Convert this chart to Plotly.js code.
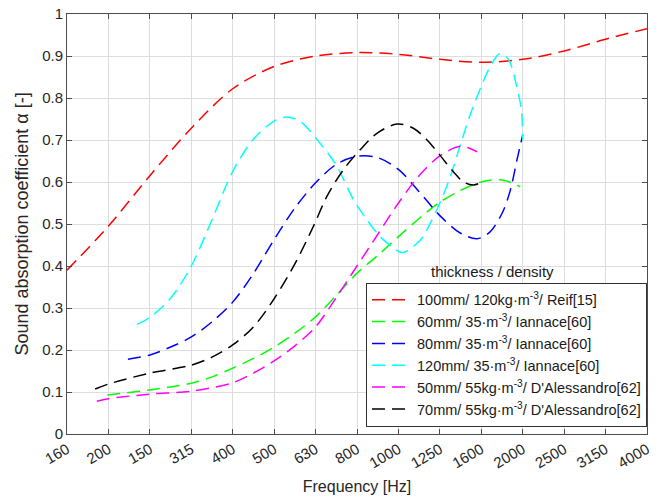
<!DOCTYPE html>
<html>
<head>
<meta charset="utf-8">
<script src="https://cdn.plot.ly/plotly-3.0.1.min.js"></script>
<style>html,body{margin:0;padding:0;background:#fff;}#chart{width:664px;height:498px;}</style>
</head>
<body>
<div id="chart"></div>
<script>
// Frequency band tick labels (as printed on the original, equally spaced bands)
var freqLabels = ['160','200','150','315','400','500','630','800','1000','1250','1600','2000','2500','3150','4000'];
var bandIndex = [0,1,2,3,4,5,6,7,8,9,10,11,12,13,14];

// Series (x = band position, y = absorption coefficient)
var reifX = [0,1,2,3,4,5,6,7,8,9,10,11,12,13,14];
var reifY = [0.39,0.495,0.615,0.728,0.822,0.875,0.9,0.908,0.904,0.892,0.885,0.892,0.912,0.94,0.965];

var ian60X = [0.97,1.5,2,2.5,3,3.5,4,4.5,5,5.5,6,6.5,7,7.5,8,8.5,9,9.5,10,10.5,10.94];
var ian60Y = [0.093,0.099,0.105,0.112,0.121,0.136,0.157,0.18,0.207,0.24,0.279,0.33,0.383,0.425,0.47,0.513,0.552,0.58,0.6,0.605,0.589];

var ian80X = [1.47,2,2.5,3,3.5,4,4.5,5,5.5,6,6.5,7,7.5,8,8.5,9,9.5,9.9,10.2,10.5,10.7,10.86,11];
var ian80Y = [0.178,0.188,0.207,0.231,0.267,0.314,0.382,0.463,0.538,0.598,0.642,0.661,0.658,0.63,0.577,0.52,0.478,0.465,0.48,0.525,0.58,0.652,0.712];

var ian120X = [1.69,2,2.5,3,3.5,4,4.5,5,5.3,5.63,6.11,6.5,6.92,7.24,7.56,7.88,8.1,8.53,8.77,9,9.25,9.5,9.75,10,10.2,10.45,10.65,10.85,10.97,11];
var ian120Y = [0.261,0.278,0.323,0.40,0.51,0.625,0.702,0.745,0.755,0.744,0.692,0.64,0.557,0.51,0.47,0.443,0.432,0.462,0.502,0.55,0.612,0.69,0.765,0.828,0.872,0.906,0.893,0.83,0.77,0.70];

var dal50X = [0.72,1,2,3,4,4.5,5,5.5,6,6.5,7,7.5,8,8.5,9,9.5,9.9];
var dal50Y = [0.078,0.084,0.095,0.102,0.122,0.145,0.174,0.21,0.255,0.325,0.40,0.475,0.55,0.615,0.662,0.685,0.672];

var dal70X = [0.68,1,2,3,3.5,4,4.5,5,5.5,5.95,6.27,6.67,7.07,7.48,7.97,8.36,8.69,9,9.33,9.57,9.81,10.02];
var dal70Y = [0.107,0.119,0.145,0.164,0.183,0.212,0.255,0.322,0.405,0.495,0.565,0.629,0.676,0.716,0.738,0.728,0.70,0.664,0.624,0.60,0.593,0.60];

var seriesNames = [
  '100mm/ 120kg·m<sup>-3</sup>/ Reif[15]',
  '60mm/ 35·m<sup>-3</sup>/ Iannace[60]',
  '80mm/ 35·m<sup>-3</sup>/ Iannace[60]',
  '120mm/ 35·m<sup>-3</sup>/ Iannace[60]',
  '50mm/ 55kg·m<sup>-3</sup>/ D\'Alessandro[62]',
  '70mm/ 55kg·m<sup>-3</sup>/ D\'Alessandro[62]'
];
var seriesColors = ['#ff0000','#00ff00','#0000ff','#00ffff','#ff00ff','#000000'];
var xs = [reifX, ian60X, ian80X, ian120X, dal50X, dal70X];
var ys = [reifY, ian60Y, ian80Y, ian120Y, dal50Y, dal70Y];

var traces = xs.map(function(x, k){
  return {
    x: x, y: ys[k], type: 'scatter', mode: 'lines', name: seriesNames[k],
    line: {color: seriesColors[k], width: 1.5, dash: '13px,7px', shape: 'spline', smoothing: 0.9}
  };
});

var font = 'Arial, "Liberation Sans", Helvetica, sans-serif';
var layout = {
  width: 664, height: 498,
  margin: {l: 67, r: 17, t: 14, b: 64},
  paper_bgcolor: '#fff', plot_bgcolor: '#fff',
  font: {family: font, color: '#262626'},
  showlegend: true,
  xaxis: {
    range: [0, 14], tickmode: 'array', tickvals: bandIndex, ticktext: freqLabels,
    tickangle: -30, tickfont: {size: 15, color: '#262626'},
    showgrid: true, gridcolor: '#dedede', gridwidth: 1,
    showline: true, linecolor: '#4d4d4d', linewidth: 1, mirror: 'ticks',
    ticks: 'inside', ticklen: 5, tickcolor: '#4d4d4d', zeroline: false,
    title: {text: 'Frequency [Hz]', font: {size: 16, color: '#262626'}, standoff: 10}
  },
  yaxis: {
    range: [0, 1], dtick: 0.1, tick0: 0, tickfont: {size: 15, color: '#262626'},
    showgrid: true, gridcolor: '#dedede', gridwidth: 1,
    showline: true, linecolor: '#4d4d4d', linewidth: 1, mirror: 'ticks',
    ticks: 'inside', ticklen: 5, tickcolor: '#4d4d4d', zeroline: false,
    title: {text: 'Sound absorption coefficient α [-]', font: {size: 18, color: '#262626'}, standoff: 8}
  },
  legend: {
    x: 1, xanchor: 'right', y: 0.36, yanchor: 'top',
    bgcolor: '#ffffff', bordercolor: '#333333', borderwidth: 1,
    font: {size: 14.5, color: '#1a1a1a', family: font},
    itemwidth: 40, tracegroupgap: 0
  },
  annotations: [{
    text: 'thickness / density', xref: 'paper', yref: 'paper',
    x: 0.733, y: 0.386, xanchor: 'center', yanchor: 'middle', showarrow: false,
    font: {size: 15, color: '#1a1a1a', family: font}
  }]
};

Plotly.newPlot('chart', traces, layout, {displayModeBar: false, staticPlot: true});
</script>
</body>
</html>
